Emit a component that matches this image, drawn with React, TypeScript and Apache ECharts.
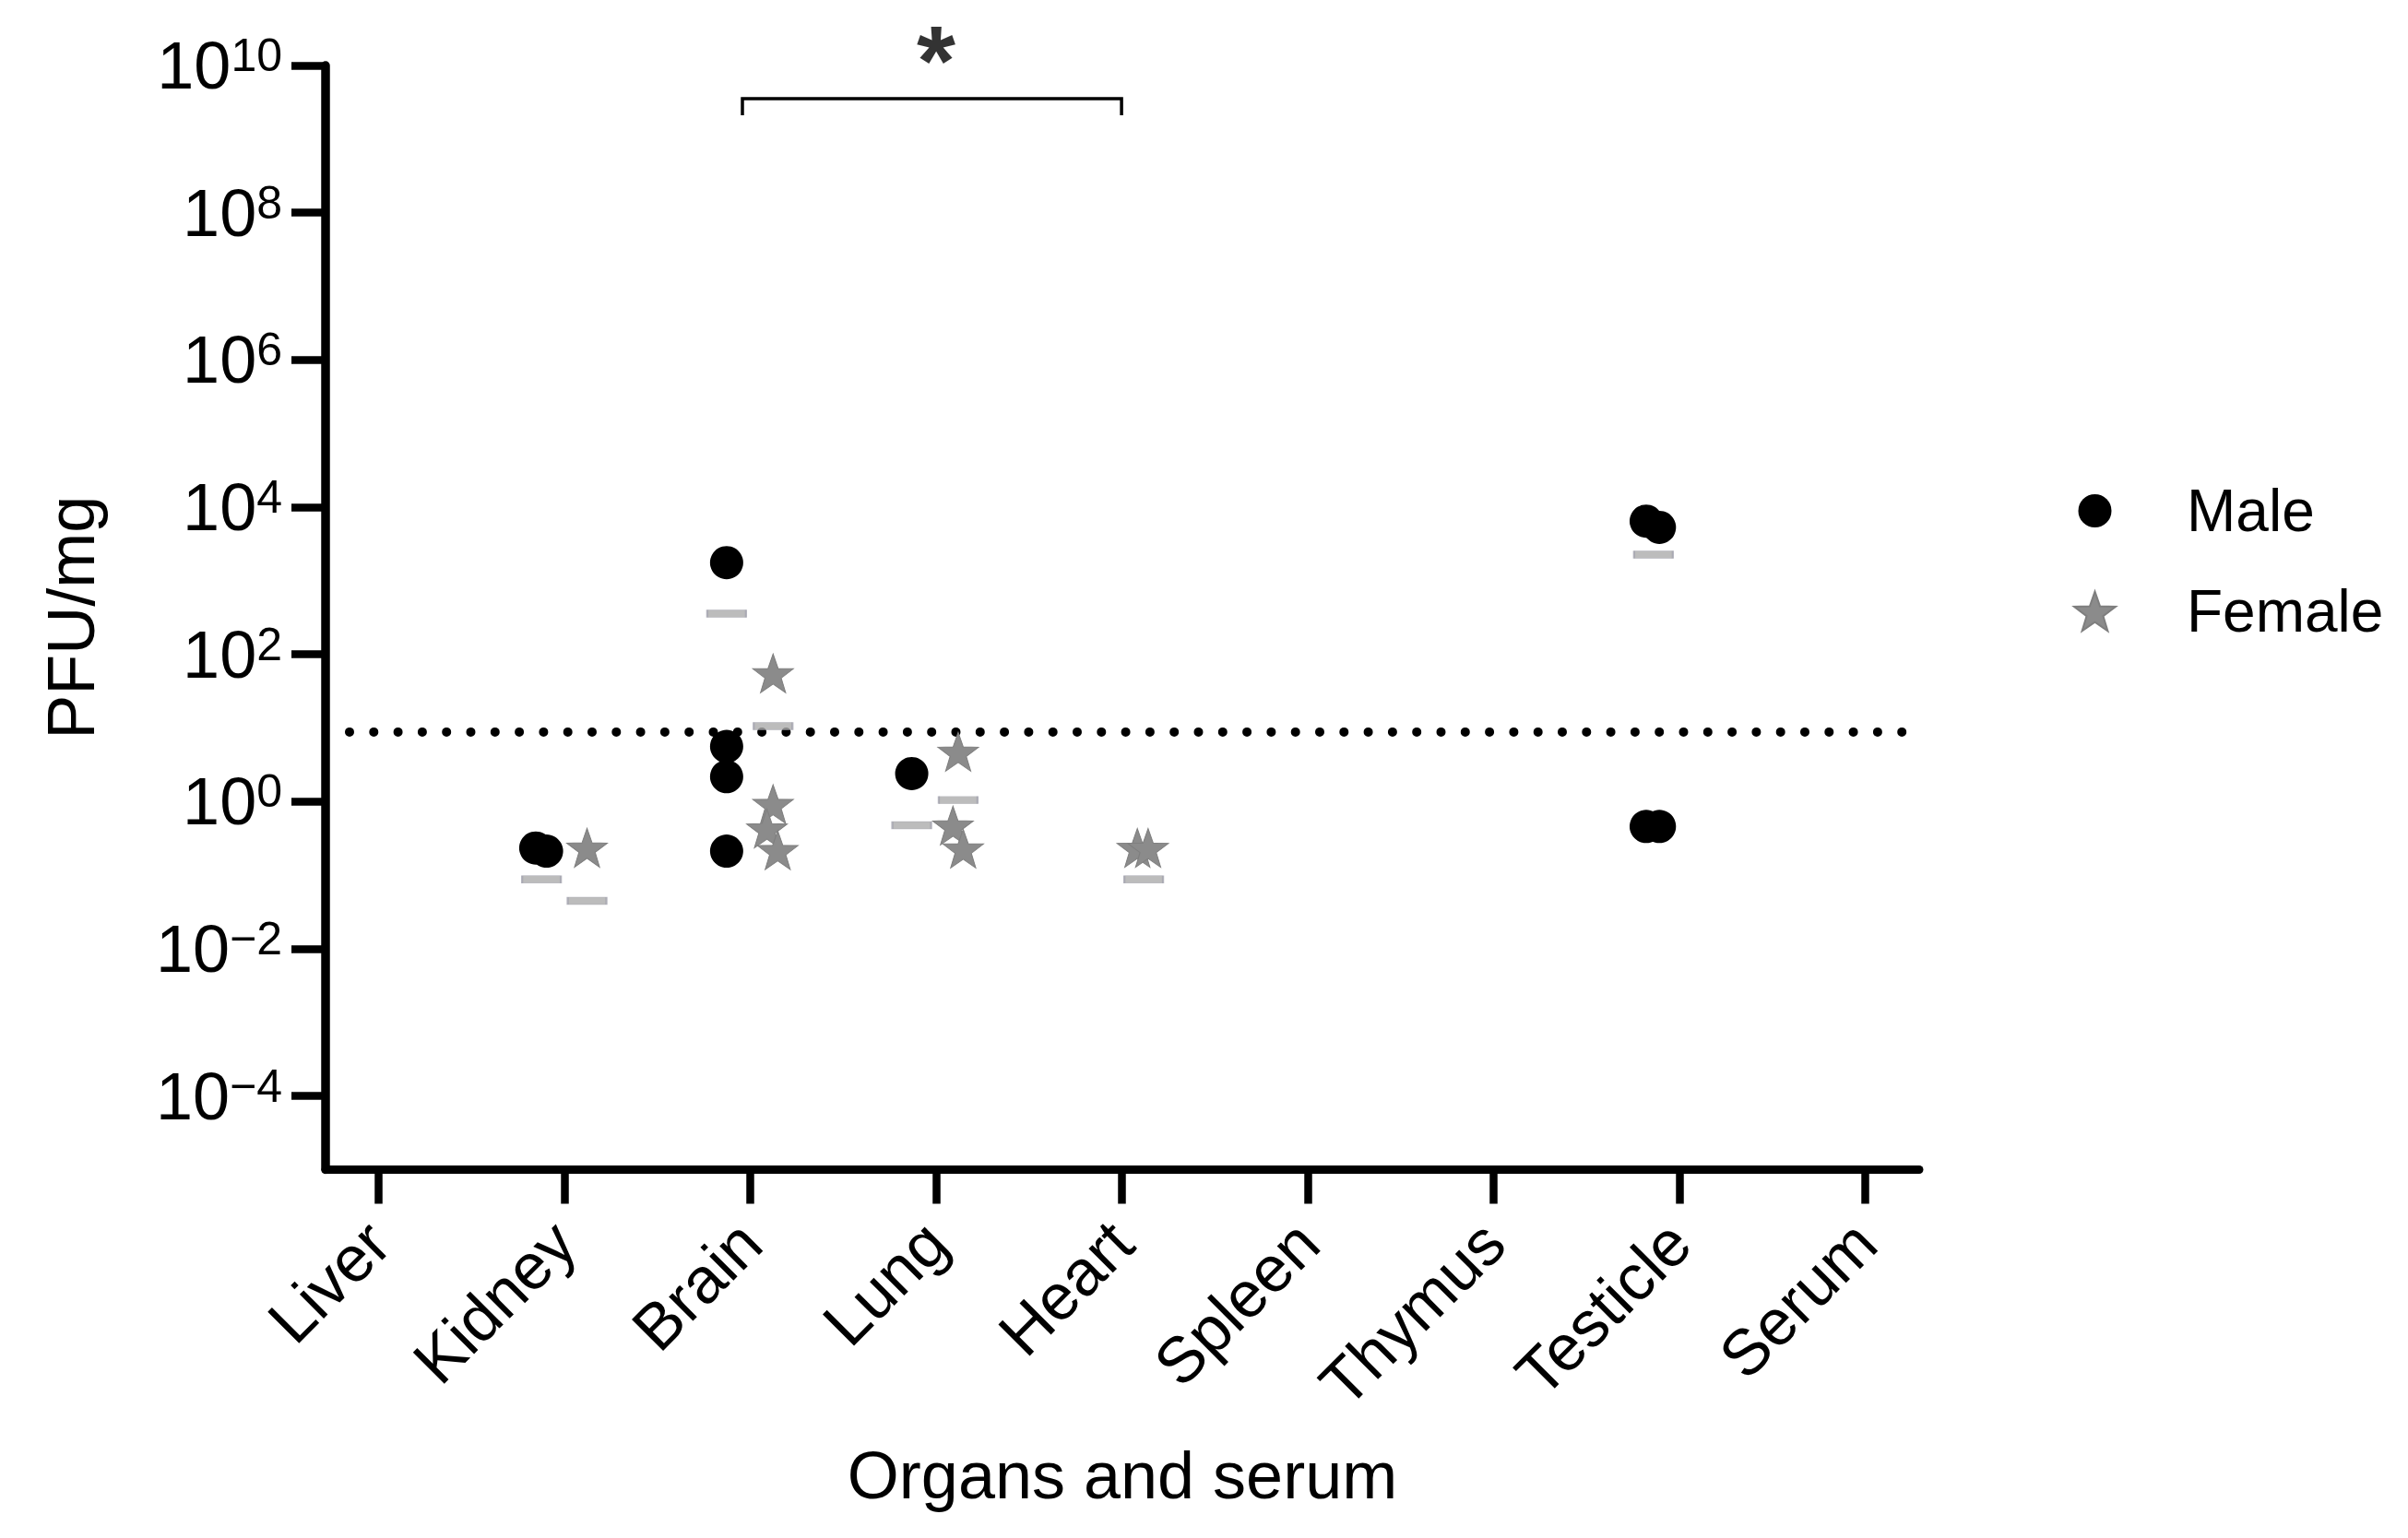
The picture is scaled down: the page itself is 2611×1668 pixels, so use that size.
import React, { useEffect, useRef } from 'react';
import * as echarts from 'echarts';

// ---------- data ----------
const categories = ['Liver', 'Kidney', 'Brain', 'Lung', 'Heart', 'Spleen', 'Thymus', 'Testicle', 'Serum'];
const yTickValues = [1e-4, 1e-2, 1, 1e2, 1e4, 1e6, 1e8, 1e10];

const maleCategory = ['Kidney', 'Kidney', 'Brain', 'Brain', 'Brain', 'Brain', 'Lung', 'Testicle', 'Testicle', 'Testicle', 'Testicle'];
const maleValues = [0.234, 0.212, 1762, 5.6, 2.18, 0.212, 2.4, 6450, 5320, 0.459, 0.459];
const maleJitter = [-0.154, -0.096, -0.127, -0.127, -0.127, -0.127, -0.131, -0.179, -0.108, -0.179, -0.108];

const femaleCategory = ['Kidney', 'Brain', 'Brain', 'Brain', 'Brain', 'Lung', 'Lung', 'Lung', 'Heart', 'Heart'];
const femaleValues = [0.236, 55.2, 0.925, 0.43, 0.219, 4.75, 0.472, 0.23, 0.235, 0.235];
const femaleJitter = [0.122, 0.123, 0.123, 0.09, 0.148, 0.119, 0.091, 0.146, 0.083, 0.141];

const maleMeanCategory = ['Kidney', 'Brain', 'Lung', 'Testicle'];
const maleMeanValues = [0.0878, 357, 0.476, 2264];
const maleMeanJitter = [-0.123, -0.127, -0.131, -0.14];

const femaleMeanCategory = ['Kidney', 'Brain', 'Lung', 'Heart'];
const femaleMeanValues = [0.0447, 10.6, 1.05, 0.0878];
const femaleMeanJitter = [0.122, 0.123, 0.119, 0.117];

const detectionLimit = 8.81;
const significancePair = ['Brain', 'Heart'];
const significanceLabel = '*';
const bracketLow = 2.1e9;
const bracketHigh = 3.54e9;

// ---------- styling ----------
const FONT = "'Liberation Sans', Arial, Helvetica, sans-serif";
const STAR =
  'path://M0 -1 L0.2351 -0.3236 L0.9511 -0.309 L0.3804 0.1236 L0.5878 0.809 L0 0.4 L-0.5878 0.809 L-0.3804 0.1236 L-0.9511 -0.309 L-0.2351 -0.3236 Z';
// circle with an invisible margin so that the legend dot is smaller than the legend star
const LEGEND_DOT = 'path://M-1.25 -1.25 M1.25 1.25 M-1 0 A1 1 0 1 1 1 0 A1 1 0 1 1 -1 0 Z';

function toPoints(cats: string[], vals: number[], jit: number[]) {
  return vals.map((v, i) => [categories.indexOf(cats[i]) + jit[i], v]);
}

function supLabel(v: number) {
  const e = Math.round(Math.log10(v));
  const s = e < 0 ? '\u2212' + String(-e) : String(e);
  return '{b|10}{s|' + s + '}';
}

export default function App() {
  const ref = useRef<HTMLDivElement>(null);

  useEffect(() => {
    if (!ref.current) return;
    const chart = echarts.init(ref.current, null, { renderer: 'svg' });

    const iA = categories.indexOf(significancePair[0]);
    const iB = categories.indexOf(significancePair[1]);
    const bx0 = iA - 0.042;
    const bx1 = iB - 0.002;

    const option: any = {
      animation: false,
      backgroundColor: '#fff',
      grid: { left: 353, right: 530, top: 71, bottom: 399.5, containLabel: false, outerBoundsMode: 'none' },
      legend: {
        orient: 'vertical',
        left: 2243,
        top: 513,
        itemWidth: 45,
        itemHeight: 45,
        itemGap: 37,
        data: [
          { name: 'Male', icon: LEGEND_DOT },
          { name: 'Female', icon: STAR },
        ],
        textStyle: { fontSize: 64, fontFamily: FONT, color: '#000', lineHeight: 72, padding: [0, 0, 0, 72] },
      },
      xAxis: {
        type: 'value',
        min: -0.285,
        max: 8.29,
        name: 'Organs and serum',
        nameLocation: 'middle',
        nameGap: 295,
        nameTextStyle: { fontSize: 72, fontFamily: FONT, color: '#000' },
        axisLine: { show: true, onZero: false, lineStyle: { color: '#000', width: 9 } },
        axisTick: { show: true, length: 37, lineStyle: { color: '#000', width: 8.5 }, customValues: categories.map((_, i) => i) },
        axisLabel: {
          show: true,
          customValues: categories.map((_, i) => i),
          formatter: (v: number) => categories[Math.round(v)] ?? '',
          rotate: 45,
          margin: 68,
          fontSize: 70,
          fontFamily: FONT,
          color: '#000',
        },
        splitLine: { show: false },
      },
      yAxis: {
        type: 'log',
        logBase: 10,
        min: 1e-5,
        max: 1e10,
        name: 'PFU/mg',
        nameLocation: 'middle',
        nameRotate: 90,
        nameGap: 240,
        nameTextStyle: { fontSize: 72, fontFamily: FONT, color: '#000' },
        axisLine: { show: true, onZero: false, lineStyle: { color: '#000', width: 9.5 } },
        axisTick: { show: true, length: 37, lineStyle: { color: '#000', width: 8.5 }, customValues: yTickValues },
        axisLabel: {
          show: true,
          customValues: yTickValues,
          margin: 47,
          formatter: supLabel,
          rich: {
            b: { fontSize: 72, fontFamily: FONT, color: '#000', lineHeight: 72 },
            s: { fontSize: 50, fontFamily: FONT, color: '#000', lineHeight: 50, verticalAlign: 'top' },
          },
        },
        splitLine: { show: false },
        minorTick: { show: false },
      },
      series: [
        {
          name: 'LOD',
          type: 'line',
          data: [
            [-0.156, detectionLimit],
            [8.205, detectionLimit],
          ],
          symbol: 'none',
          lineStyle: { color: '#000', width: 10, type: [0, 26.3], cap: 'round' },
          silent: true,
          z: 1,
        },
        {
          name: 'Bracket',
          type: 'line',
          data: [
            [bx0, bracketLow],
            [bx0, bracketHigh],
            [bx1, bracketHigh],
            [bx1, bracketLow],
          ],
          symbol: 'none',
          lineStyle: { color: '#000', width: 3.5, join: 'miter' },
          silent: true,
          z: 1,
        },
        {
          name: 'Significance',
          type: 'scatter',
          data: [[(iA + iB) / 2, bracketHigh]],
          symbolSize: 0,
          label: {
            show: true,
            position: 'top',
            distance: -12,
            formatter: significanceLabel,
            fontSize: 108,
            fontWeight: 'bold',
            fontFamily: FONT,
            color: '#000',
            lineHeight: 108,
          },
          silent: true,
          z: 2,
        },
        {
          name: 'Male mean',
          type: 'scatter',
          data: toPoints(maleMeanCategory, maleMeanValues, maleMeanJitter),
          symbol: 'rect',
          symbolSize: [42, 8],
          itemStyle: { color: '#ababab', borderColor: '#a2a2ae', borderWidth: 1 },
          z: 3,
        },
        {
          name: 'Female mean',
          type: 'scatter',
          data: toPoints(femaleMeanCategory, femaleMeanValues, femaleMeanJitter),
          symbol: 'rect',
          symbolSize: [42, 8],
          itemStyle: { color: '#ababab', borderColor: '#a2a2ae', borderWidth: 1 },
          z: 3,
        },
        {
          name: 'Male',
          type: 'scatter',
          data: toPoints(maleCategory, maleValues, maleJitter),
          symbol: 'circle',
          symbolSize: 36,
          itemStyle: { color: '#000', opacity: 1 },
          z: 4,
        },
        {
          name: 'Female',
          type: 'scatter',
          data: toPoints(femaleCategory, femaleValues, femaleJitter),
          symbol: STAR,
          symbolSize: [44, 42],
          itemStyle: { color: '#8b8b8b', borderColor: '#7e7e7e', borderWidth: 1, opacity: 1 },
          z: 5,
        },
      ],
    };

    chart.setOption(option);
    return () => chart.dispose();
  }, []);

  return (
    <div
      ref={ref}
      style={{ position: 'absolute', left: 0, top: 0, width: 2611, height: 1668, background: '#fff' }}
    />
  );
}
